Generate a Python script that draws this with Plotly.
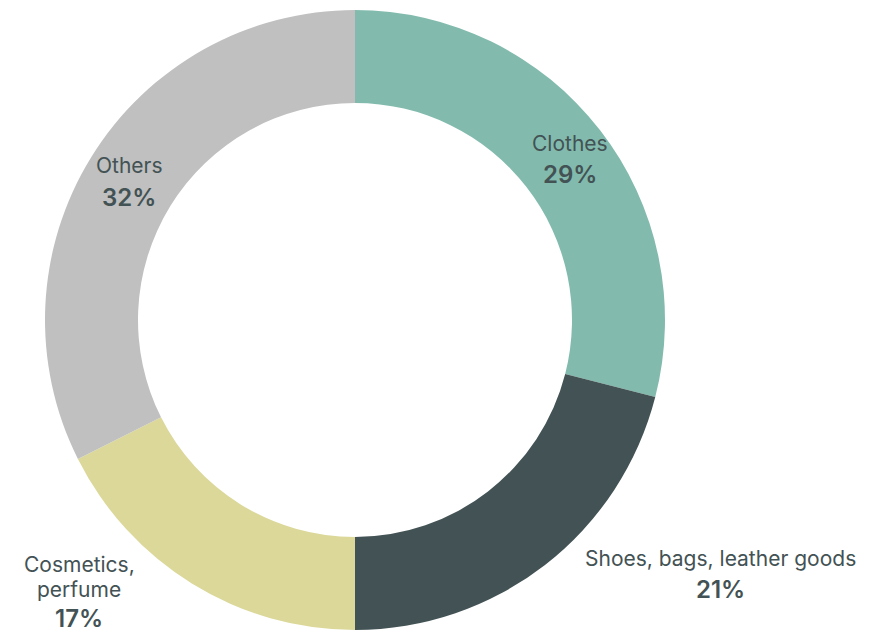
import plotly.graph_objects as go

W, H = 883, 632

categories = ["Clothes", "Shoes, bags, leather goods", "Cosmetics, perfume", "Others"]
label_lines = [["Clothes"], ["Shoes, bags, leather goods"], ["Cosmetics,", "perfume"], ["Others"]]
pct_labels = ["29%", "21%", "17%", "32%"]
values = [29.0, 21.0, 17.6, 32.4]   # slice sizes as drawn
colors = ["#82bbad", "#435254", "#dbd89a", "#bfc0bf"]

# label block layout (pixel centre x, first line centre y, percentage centre y)
label_x = [570, 720, 79, 129]
label_y = [143, 558, 564, 165]
pct_y = [174, 589, 618, 197]
line_gap = 25   # between name lines

fig = go.Figure()
fig.add_trace(go.Pie(
    labels=categories,
    values=values,
    hole=0.7,
    sort=False,
    direction="clockwise",
    rotation=0,
    marker=dict(colors=colors, line=dict(width=0)),
    textinfo="none",
    hoverinfo="label",
    showlegend=False,
    domain=dict(x=[45 / W, 665 / W], y=[2 / H, 622 / H]),
))

txt_color = "#435254"
for lines, pct, px, py, ppy in zip(label_lines, pct_labels, label_x, label_y, pct_y):
    y = py
    for i, ln in enumerate(lines):
        if i > 0:
            y += line_gap
        fig.add_annotation(
            x=px / W, y=1 - y / H, xref="paper", yref="paper",
            text=ln, showarrow=False, xanchor="center", yanchor="middle",
            font=dict(family="Inter", size=21, color=txt_color),
        )
    fig.add_annotation(
        x=px / W, y=1 - ppy / H, xref="paper", yref="paper",
        text=pct, showarrow=False, xanchor="center", yanchor="middle",
        font=dict(family="Inter", size=24, color=txt_color, weight=600),
    )

fig.update_layout(
    width=W, height=H,
    margin=dict(l=0, r=0, t=0, b=0),
    paper_bgcolor="white", plot_bgcolor="white",
)

fig.write_html("out.html")
